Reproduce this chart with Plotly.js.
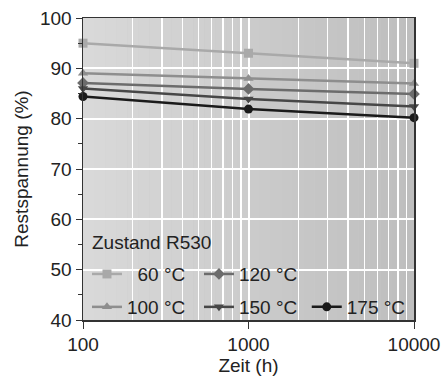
<!DOCTYPE html>
<html><head><meta charset="utf-8">
<script src="https://cdn.plot.ly/plotly-3.0.1.min.js"></script>
<style>html,body{margin:0;padding:0;background:#fff}</style>
</head><body><div id="chart" style="width:441px;height:381px"></div>
<script>
const zeit = [100, 1000, 10000];
const labels = ["\u200760 °C", "100 °C", "120 °C", "150 °C", "175 °C"];
const s60 = [95, 93, 91];
const s100 = [89, 88, 87];
const s120 = [87.1, 85.9, 84.9];
const s150 = [86, 83.9, 82.4];
const s175 = [84.4, 81.9, 80.2];
const xTicks = [100, 1000, 10000];
const xTickText = ["100", "1000", "10000"];
const minorX = [200,300,400,500,600,700,800,900,2000,3000,4000,5000,6000,7000,8000,9000];

const styles = [
  {c:'#a9a9a9', s:'square', leg:'legend'},
  {c:'#8e8e8e', s:'triangle-up', leg:'legend2'},
  {c:'#6c6c6c', s:'diamond', leg:'legend'},
  {c:'#474747', s:'triangle-down', leg:'legend2'},
  {c:'#1a1a1a', s:'circle', leg:'legend3'}
];
const series = [s60, s100, s120, s150, s175];
const order = [0,2,1,3,4];
const traces = order.map(i => ({
  x: zeit, y: series[i], name: labels[i], type:'scatter', mode:'lines+markers',
  legend: styles[i].leg, cliponaxis:false,
  line:{color:styles[i].c, width:2.5},
  marker:{color:styles[i].c, symbol:styles[i].s, size:9}
}));

const shapes = [];
const N = 30;
for (let k=0;k<N;k++){
  const v = Math.round(217 - (217-190)*k/(N-1));
  shapes.push({type:'rect', xref:'paper', yref:'paper', x0:k/N, x1:(k+1)/N, y0:0, y1:1,
    fillcolor:`rgb(${v},${v},${v})`, line:{width:0}, layer:'below'});
}

const font = {family:'Liberation Sans, Arial, sans-serif', size:19, color:'#222'};
const legBase = {orientation:'h', xanchor:'left', yanchor:'middle', bgcolor:'rgba(0,0,0,0)',
    font:font, entrywidth:67, itemwidth:30, traceorder:'normal', borderwidth:0};
const layout = {
  width:441, height:381,
  margin:{l:83, r:27, t:18, b:61},
  paper_bgcolor:'#fff', plot_bgcolor:'#cacaca',
  font: font,
  showlegend:true,
  shapes: shapes,
  xaxis:{type:'log', range:[2,4], tickvals:xTicks, ticktext:xTickText, ticklabeloverflow:'allow',
    ticks:'outside', ticklen:7, tickcolor:'#333', showline:true, linecolor:'#333', linewidth:1.5, mirror:true,
    showgrid:true, gridcolor:'#fff', gridwidth:2,
    minor:{tickvals:minorX, showgrid:true, gridcolor:'#fff', gridwidth:1.3, ticks:''},
    title:{text:'Zeit (h)', font:font, standoff:2}, zeroline:false},
  yaxis:{range:[40,100], dtick:10, tick0:40, ticks:'outside', ticklen:6, tickcolor:'#333',
    showline:true, linecolor:'#333', linewidth:1.5, mirror:true,
    showgrid:true, gridcolor:'#fff', gridwidth:2,
    minor:{dtick:5, ticks:'outside', ticklen:4, tickcolor:'#333', showgrid:false},
    title:{text:'Restspannung (%)', font:font, standoff:6}, zeroline:false},
  legend:Object.assign({}, legBase, {x:0.012, y:0.152}),
  legend2:Object.assign({}, legBase, {x:0.012, y:0.043}),
  legend3:Object.assign({}, legBase, {x:0.676, y:0.043}),
  annotations:[{text:'Zustand R530', xref:'paper', yref:'paper', x:0.02, y:0.255, xanchor:'left', yanchor:'middle',
    showarrow:false, font:font}]
};
Plotly.newPlot('chart', traces, layout, {displayModeBar:false, staticPlot:true});
</script></body></html>
